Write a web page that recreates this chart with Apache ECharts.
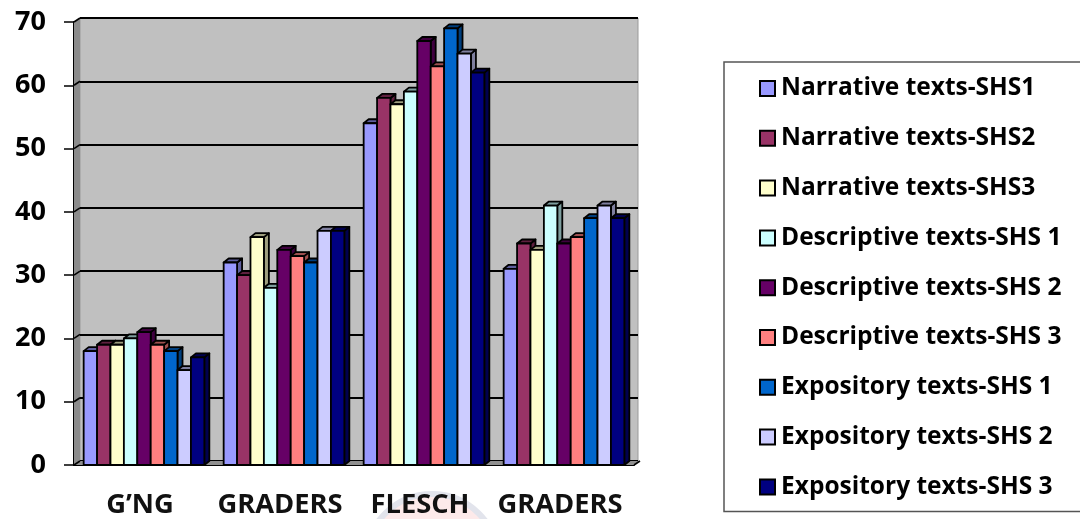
<!DOCTYPE html>
<html>
<head>
<meta charset="utf-8">
<style>html,body{margin:0;padding:0;background:#fff}#c{width:1080px;height:519px}</style>
<script src="https://cdn.jsdelivr.net/npm/echarts@6/dist/echarts.min.js"></script>
</head>
<body>
<div id="c"></div>
<script>
const categories = ['G’NG', 'GRADERS', 'FLESCH', 'GRADERS'];
const yTicks = [0, 10, 20, 30, 40, 50, 60, 70];

const narrative1 = [18, 32, 54, 31];
const narrative2 = [19, 30, 58, 35];
const narrative3 = [19, 36, 57, 34];
const descriptive1 = [20, 28, 59, 41];
const descriptive2 = [21, 34, 67, 35];
const descriptive3 = [19, 33, 63, 36];
const expository1 = [18, 32, 69, 39];
const expository2 = [15, 37, 65, 41];
const expository3 = [17, 37, 62, 39];

const seriesNames = [
  'Narrative texts-SHS1', 'Narrative texts-SHS2', 'Narrative texts-SHS3',
  'Descriptive texts-SHS 1', 'Descriptive texts-SHS 2', 'Descriptive texts-SHS 3',
  'Expository texts-SHS 1', 'Expository texts-SHS 2', 'Expository texts-SHS 3'
];
const seriesValues = [
  narrative1, narrative2, narrative3,
  descriptive1, descriptive2, descriptive3,
  expository1, expository2, expository3
];
const seriesColors = [
  '#9999FF', '#993366', '#FFFFCC', '#CCFFFF', '#660066',
  '#FF8080', '#0066CC', '#CCCCFF', '#000080'
];

const FONT = '"Open Sans", Lato, sans-serif';
const DEPTH_X = 5, DEPTH_Y = 4;        // extrusion of each column
const WALL_X = 6, WALL_Y = 4;          // offset of the back wall from the front plane
const BAND_FILL = 0.862;               // share of a category taken up by the column cluster
const EDGE = { stroke: '#000', lineWidth: 1.8, lineJoin: 'round' };

function darken(hex, k) {
  const n = parseInt(hex.slice(1), 16);
  const c = [(n >> 16) & 255, (n >> 8) & 255, n & 255].map(v => Math.round(v * k));
  return 'rgb(' + c.join(',') + ')';
}

// One extruded column: front face, top face and right face.
function renderColumn(seriesIndex, params, api) {
  const base = api.coord([api.value(0), 0]);
  const top = api.coord([api.value(0), api.value(1)]);
  const band = api.size([1, 0])[0];
  const w = band * BAND_FILL / seriesValues.length;
  const x0 = base[0] - band * BAND_FILL / 2 + w * seriesIndex;
  const x1 = x0 + w;
  const color = seriesColors[seriesIndex];
  const shade = darken(color, 0.62);
  const poly = (points, fill) => ({
    type: 'polygon', shape: { points }, style: Object.assign({ fill }, EDGE)
  });
  return {
    type: 'group',
    children: [
      poly([[x1, base[1]], [x1 + DEPTH_X, base[1] - DEPTH_Y], [x1 + DEPTH_X, top[1] - DEPTH_Y], [x1, top[1]]], shade),
      poly([[x0, top[1]], [x0 + DEPTH_X, top[1] - DEPTH_Y], [x1 + DEPTH_X, top[1] - DEPTH_Y], [x1, top[1]]], shade),
      poly([[x0, base[1]], [x0, top[1]], [x1, top[1]], [x1, base[1]]], color)
    ]
  };
}

// Side wall and floor that join the front axes to the back wall.
function renderShell(params, api) {
  const left = params.coordSys.x, right = left + params.coordSys.width;
  const bottom = api.coord([0, 0])[1], top = api.coord([0, 70])[1];
  const children = [
    { type: 'polygon', shape: { points: [[left, bottom], [left + WALL_X, bottom - WALL_Y], [left + WALL_X, top - WALL_Y], [left, top]] },
      style: { fill: '#8c8c8c' } },
    { type: 'polygon', shape: { points: [[left, bottom], [left + WALL_X, bottom - WALL_Y], [right + WALL_X, bottom - WALL_Y], [right, bottom]] },
      style: { fill: '#8f8f8f' } }
  ];
  yTicks.forEach(t => {
    const y = api.coord([0, t])[1];
    children.push({ type: 'line', shape: { x1: left, y1: y, x2: left + WALL_X, y2: y - WALL_Y },
      style: { stroke: '#000', lineWidth: 1.6 } });
  });
  children.push({ type: 'line', shape: { x1: right, y1: bottom, x2: right + WALL_X, y2: bottom - WALL_Y },
    style: { stroke: '#000', lineWidth: 1.6 } });
  return { type: 'group', children };
}

const chart = echarts.init(document.getElementById('c'), null, { renderer: 'canvas' });
chart.setOption({
  animation: false,
  backgroundColor: '#fff',
  grid: [
    { left: 80, top: 18, width: 558, height: 443, show: true, backgroundColor: '#c0c0c0', borderColor: '#9a9a9a', borderWidth: 1, outerBoundsMode: 'none' },
    { left: 74, top: 22, width: 560, height: 443, outerBoundsMode: 'none' }
  ],
  xAxis: [
    { gridIndex: 0, type: 'category', data: categories, show: false },
    {
      gridIndex: 1, type: 'category', data: categories,
      axisLine: { lineStyle: { color: '#000', width: 2 } },
      axisTick: { alignWithLabel: false, length: 10, lineStyle: { color: '#444', width: 1.5 } },
      axisLabel: { interval: 0, color: '#111', fontFamily: FONT, fontWeight: 700, fontSize: 27.3, margin: 27, padding: [0, 8, 0, 0] }
    }
  ],
  yAxis: [
    {
      gridIndex: 0, type: 'value', min: 0, max: 70, interval: 10,
      axisLine: { show: false }, axisTick: { show: false }, axisLabel: { show: false },
      splitLine: { lineStyle: { color: '#000', width: 2 } }
    },
    {
      gridIndex: 1, type: 'value', min: 0, max: 70, interval: 10,
      axisLine: { show: true, lineStyle: { color: '#000', width: 2 } },
      axisTick: { show: true, length: 10, lineStyle: { color: '#000', width: 1.5 } },
      axisLabel: { color: '#000', fontFamily: FONT, fontWeight: 700, fontSize: 27, margin: 28, padding: [6, 0, 0, 0] },
      splitLine: { show: false }
    }
  ],
  legend: {
    orient: 'vertical',
    left: 724, top: 62,
    padding: [14, 200, 12, 35],
    itemWidth: 15, itemHeight: 15,
    itemGap: 24.8,
    borderColor: '#555', borderWidth: 1.5,
    icon: 'rect',
    itemStyle: { borderColor: '#000', borderWidth: 2 },
    textStyle: { color: '#000', fontFamily: FONT, fontWeight: 700, fontSize: 24.5, lineHeight: 25, padding: [0, 0, 0, 1] },
    data: seriesNames
  },
  graphic: {
    elements: [
      // faint emblem showing through behind the lower axis labels
      { type: 'circle', silent: true, z: -1, shape: { cx: 432, cy: 560, r: 66 },
        style: { fill: '#fdeaea', stroke: '#e2e4ec', lineWidth: 6 } }
    ]
  },
  series: [
    { type: 'custom', xAxisIndex: 1, yAxisIndex: 1, silent: true, z: 1, data: [[0, 0]],
      renderItem: renderShell, legendHoverLink: false }
  ].concat(seriesNames.map((name, s) => ({
    name,
    type: 'custom',
    xAxisIndex: 1, yAxisIndex: 1,
    z: 2,
    itemStyle: { color: seriesColors[s] },
    encode: { x: 0, y: 1 },
    data: seriesValues[s].map((v, i) => [i, v]),
    renderItem: (params, api) => renderColumn(s, params, api)
  })))
});
</script>
</body>
</html>
